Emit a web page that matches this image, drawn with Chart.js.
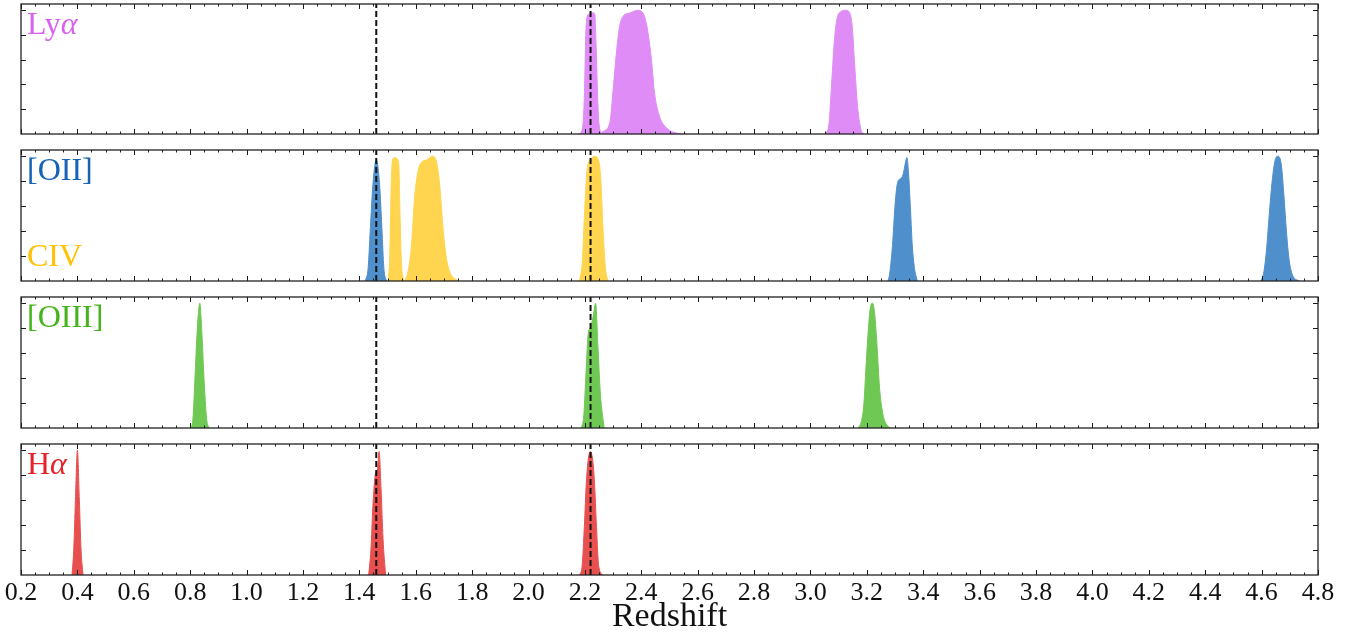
<!DOCTYPE html>
<html><head><meta charset="utf-8">
<script src="https://cdn.jsdelivr.net/npm/chart.js@4.4.1/dist/chart.umd.min.js"></script>
<style>
html,body{margin:0;padding:0;background:#fff;}
body{width:1362px;height:637px;overflow:hidden;position:relative;}
canvas{position:absolute;left:0;}
</style>
</head><body>
<script>
// ---------- axis ----------
const xMin = 0.2, xMax = 4.8;
const xTicks = [0.2,0.4,0.6,0.8,1.0,1.2,1.4,1.6,1.8,2.0,2.2,2.4,2.6,2.8,3.0,3.2,3.4,3.6,3.8,4.0,4.2,4.4,4.6,4.8];
const yTicks = [0.2,0.4,0.6,0.8,1.0];
const yMax = 1.05;
const markerZ = [1.46, 2.22];

// ---------- Ly alpha ----------
const lyaNarrowZ = [2.175,2.19,2.198,2.203,2.208,2.215,2.228,2.235,2.24,2.245,2.25,2.26,2.27];
const lyaNarrowT = [0,0.03,0.3,0.8,0.95,0.97,0.98,0.97,0.7,0.3,0.08,0.01,0];
const lyaWideZ = [2.255,2.264,2.288,2.302,2.314,2.323,2.335,2.359,2.388,2.406,2.42,2.436,2.447,2.465,2.489,2.524,2.56];
const lyaWideT = [0,0.02,0.09,0.41,0.71,0.87,0.95,0.977,1.0,0.977,0.87,0.6,0.33,0.14,0.05,0.008,0];
const lyaHighZ = [3.054,3.066,3.075,3.085,3.094,3.109,3.125,3.139,3.148,3.157,3.168,3.18,3.19];
const lyaHighT = [0,0.09,0.41,0.76,0.93,0.99,1.0,0.98,0.87,0.55,0.2,0.03,0];

// ---------- [OII] ----------
const oiiAZ = [1.421,1.431,1.439,1.448,1.46,1.472,1.48,1.487,1.496];
const oiiAT = [0,0.1,0.42,0.77,0.97,0.77,0.42,0.1,0];
const oiiBZ = [3.275,3.281,3.291,3.3,3.309,3.319,3.328,3.338,3.342,3.349,3.355,3.361,3.369,3.379];
const oiiBT = [0,0.06,0.29,0.61,0.79,0.82,0.85,0.96,0.99,0.82,0.56,0.29,0.1,0];
const oiiCZ = [4.597,4.607,4.617,4.626,4.636,4.647,4.658,4.67,4.679,4.688,4.697,4.711,4.735];
const oiiCT = [0,0.06,0.24,0.5,0.77,0.96,1.0,0.93,0.69,0.4,0.18,0.04,0];

// ---------- CIV ----------
const civAZ = [1.502,1.508,1.512,1.517,1.525,1.534,1.54,1.544,1.549,1.557];
const civAT = [0,0.21,0.69,0.96,0.99,0.98,0.93,0.56,0.16,0];
const civBZ = [1.561,1.573,1.585,1.596,1.608,1.62,1.638,1.659,1.673,1.685,1.697,1.709,1.723,1.744,1.75];
const civBT = [0,0.08,0.29,0.67,0.88,0.95,0.97,1.0,0.96,0.77,0.42,0.18,0.06,0.01,0];
const civCZ = [2.181,2.191,2.199,2.207,2.219,2.235,2.248,2.256,2.264,2.273,2.282];
const civCT = [0,0.16,0.56,0.88,0.97,1.0,0.97,0.83,0.42,0.1,0];

// ---------- [OIII] ----------
const oiiiAZ = [0.804,0.81,0.817,0.824,0.834,0.842,0.849,0.858,0.866];
const oiiiAT = [0,0.08,0.4,0.74,1.0,0.74,0.4,0.08,0];
const oiiiBZ = [2.188,2.196,2.203,2.211,2.22,2.229,2.238,2.246,2.255,2.268];
const oiiiBT = [0,0.1,0.4,0.74,0.81,0.89,1.0,0.66,0.27,0];
const oiiiCZ = [3.169,3.18,3.189,3.196,3.204,3.212,3.22,3.228,3.236,3.245,3.257,3.269,3.284];
const oiiiCT = [0,0.05,0.18,0.45,0.75,0.96,1.0,0.91,0.66,0.32,0.11,0.03,0];

// ---------- H alpha ----------
const haAZ = [0.381,0.387,0.393,0.4,0.407,0.413,0.42];
const haAT = [0,0.2,0.6,1.0,0.6,0.2,0];
const haBZ = [1.433,1.441,1.448,1.457,1.464,1.47,1.477,1.484,1.493];
const haBT = [0,0.2,0.55,0.81,0.84,0.99,0.69,0.29,0];
const haCZ = [2.181,2.19,2.198,2.205,2.212,2.219,2.227,2.234,2.241,2.249,2.264];
const haCT = [0,0.07,0.39,0.74,0.93,0.99,0.93,0.74,0.39,0.07,0];

// ---------- styling ----------
const FONT = "'Liberation Serif', 'Times New Roman', serif";
const C = {
  lya:  {fill:'#df8cf6', text:'#d862f0'},
  oii:  {fill:'#4f8fcb', text:'#1663b6'},
  civ:  {fill:'#ffd54f', text:'#ffc107'},
  oiii: {fill:'#6fc853', text:'#45b41b'},
  ha:   {fill:'#e8504f', text:'#e5212a'}
};

const panels = [
  {top:4, bottom:134, series:[[lyaNarrowZ,lyaNarrowT,'lya'],[lyaWideZ,lyaWideT,'lya'],[lyaHighZ,lyaHighT,'lya']],
   labels:[{parts:[['Ly','normal'],['α','italic']], color:C.lya.text, at:'top'}]},
  {top:150, bottom:281, series:[[civAZ,civAT,'civ'],[civBZ,civBT,'civ'],[civCZ,civCT,'civ'],[oiiAZ,oiiAT,'oii'],[oiiBZ,oiiBT,'oii'],[oiiCZ,oiiCT,'oii']],
   labels:[{parts:[['[OII]','normal']], color:C.oii.text, at:'top'},{parts:[['CIV','normal']], color:C.civ.text, at:'bottom'}]},
  {top:297, bottom:428, series:[[oiiiAZ,oiiiAT,'oiii'],[oiiiBZ,oiiiBT,'oiii'],[oiiiCZ,oiiiCT,'oiii']],
   labels:[{parts:[['[OIII]','normal']], color:C.oiii.text, at:'top'}]},
  {top:444, bottom:575, series:[[haAZ,haAT,'ha'],[haBZ,haBT,'ha'],[haCZ,haCT,'ha']],
   labels:[{parts:[['H','normal'],['α','italic']], color:C.ha.text, at:'top'}], bottomAxis:true}
];

const framePlugin = {
  id:'frame',
  afterDatasetsDraw(chart, args, opts){
    const ctx = chart.ctx, a = chart.chartArea;
    const xs = chart.scales.x, ys = chart.scales.y;
    ctx.save();
    ctx.strokeStyle = '#1a1a1a';
    ctx.lineWidth = 1;
    ctx.beginPath();
    // x ticks (major every 0.2, minor every 0.05), inward top and bottom
    for (let i = 0; i <= 92; i++) {
      const v = xMin + i * 0.05;
      const px = Math.round(xs.getPixelForValue(v)) + 0.5;
      const len = (i % 4 === 0) ? 5 : 2.5;
      ctx.moveTo(px, a.bottom); ctx.lineTo(px, a.bottom - len);
      ctx.moveTo(px, a.top); ctx.lineTo(px, a.top + len);
    }
    for (const v of yTicks) {
      const py = Math.round(ys.getPixelForValue(v)) + 0.5;
      ctx.moveTo(a.left, py); ctx.lineTo(a.left + 5, py);
      ctx.moveTo(a.right, py); ctx.lineTo(a.right - 5, py);
    }
    ctx.stroke();
    ctx.lineWidth = 1.3;
    ctx.strokeStyle = '#222';
    ctx.strokeRect(a.left, a.top, a.right - a.left, a.bottom - a.top);
    // labels
    for (const lb of (opts.labels || [])) {
      let x = a.left + 6;
      const y = lb.at === 'top' ? a.top + 30 : a.bottom - 15;
      ctx.fillStyle = lb.color;
      ctx.textBaseline = 'alphabetic';
      ctx.textAlign = 'left';
      for (const [txt, style] of lb.parts) {
        ctx.font = style + ' 32px ' + FONT;
        ctx.fillText(txt, x, y);
        x += ctx.measureText(txt).width;
      }
    }
    ctx.restore();
  }
};

panels.forEach((p, idx) => {
  const cv = document.createElement('canvas');
  const padTop = 5;
  const canvasTop = p.top - padTop;
  const axisH = 637 - p.bottom;
  const h = p.bottomAxis ? (637 - canvasTop) : (p.bottom - p.top + 10);
  cv.width = 1362; cv.height = h;
  cv.style.top = canvasTop + 'px';
  cv.style.width = '1362px'; cv.style.height = h + 'px';
  document.body.appendChild(cv);

  const datasets = [];
  markerZ.forEach(z => datasets.push({
    data:[{x:z,y:0},{x:z,y:yMax}],
    borderColor:'#111', borderWidth:2, borderDash:[6,3], pointRadius:0, fill:false, order:0
  }));
  p.series.forEach(([zs, ts, key]) => datasets.push({
    data: zs.map((z, i) => ({x:z, y:ts[i]})),
    borderColor: C[key].fill, backgroundColor: C[key].fill, borderWidth:1,
    fill:'origin', pointRadius:0, cubicInterpolationMode:'monotone', order:1
  }));

  new Chart(cv, {
    type:'line',
    data:{datasets},
    plugins:[framePlugin],
    options:{
      responsive:false, animation:false, devicePixelRatio:1,
      layout:{padding:{left:21, right:44, top:padTop, bottom:p.bottomAxis ? 0 : 5}},
      plugins:{legend:{display:false}, tooltip:{enabled:false}, frame:{labels:p.labels}},
      scales:{
        x:{
          type:'linear', min:xMin, max:xMax, display: !!p.bottomAxis,
          grid:{display:false, drawTicks:false}, border:{display:false},
          afterBuildTicks: s => { s.ticks = xTicks.map(v => ({value:v})); },
          afterFit: s => { if (p.bottomAxis) s.height = axisH; },
          ticks:{autoSkip:false, maxRotation:0, padding:3, color:'#111',
                 font:{family:FONT, size:26}, callback: v => Number(v).toFixed(1)},
          title:{display:true, text:'Redshift', color:'#111', font:{family:FONT, size:34}, padding:{top:0,bottom:0}}
        },
        y:{type:'linear', min:0, max:yMax, display:false}
      }
    }
  });
});
</script>
</body></html>
